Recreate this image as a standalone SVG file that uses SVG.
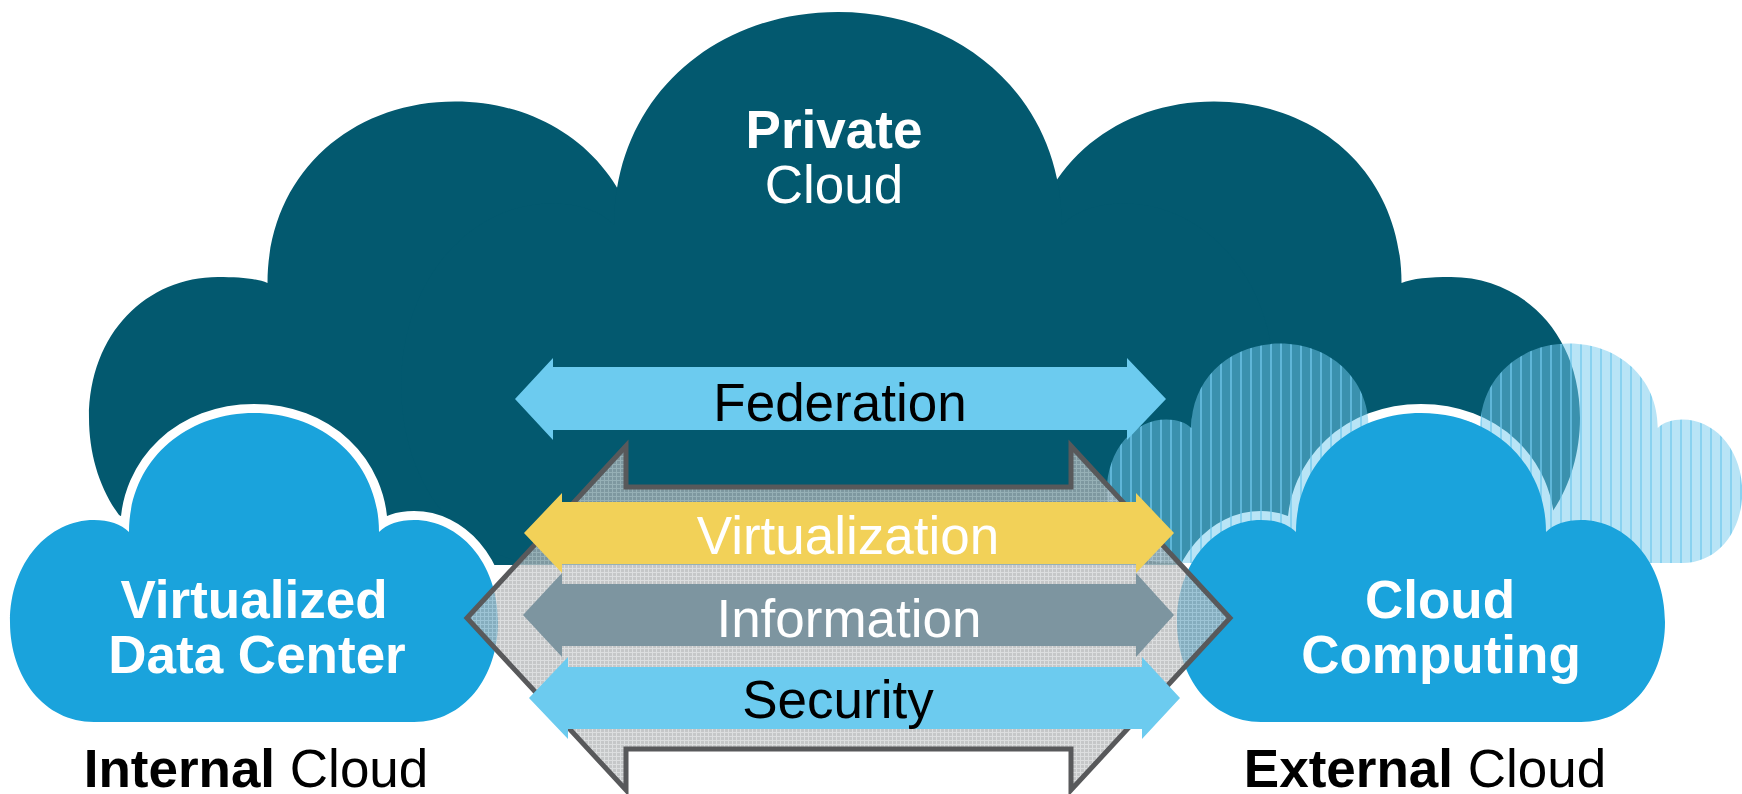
<svg xmlns="http://www.w3.org/2000/svg" xmlns:xlink="http://www.w3.org/1999/xlink" width="1742" height="794" viewBox="0 0 1742 794">
  <style>
    text { font-family: "Liberation Sans", Arial, sans-serif; font-size: 53px; text-anchor: middle; }
    .b { font-weight: bold; }
    .white { fill: #ffffff; }
    .black { fill: #000000; }
    .dark { fill: #03596f; }
    .blue { fill: #1aa3dc; }
    .halo { fill: none; stroke: #ffffff; stroke-width: 18; }
    .skyarrow { fill: #6ccbef; }
    .yellow { fill: #f2d158; }
    .slate { fill: #7d95a0; }
    .frame { fill: url(#grid); fill-opacity: 0.72; stroke: #58595b; stroke-width: 5; stroke-linejoin: miter; }
  </style>
  <defs>
    <!-- Basic cloud outline: origin at the middle of the flat bottom -->
    <path id="cloud" d="M -160 0 C -210 0 -244 -45 -244 -100 C -244 -160 -205 -202 -160 -202 C -145 -202 -133 -198 -125 -190 C -125 -260 -70 -309 0 -309 C 70 -309 125 -260 125 -190 C 133 -198 145 -202 160 -202 C 205 -202 244 -160 244 -100 C 244 -45 210 0 160 0 Z"/>
    <!-- Same outline with slightly lower side lobes, for the large back cloud -->
    <path id="cloud-low" d="M -160 0 C -210 0 -244 -45 -244 -98 C -244 -155 -205 -192 -158 -192 C -144 -192 -132 -191 -125 -188 C -125 -260 -70 -309 0 -309 C 70 -309 125 -260 125 -188 C 132 -191 144 -192 158 -192 C 205 -192 244 -155 244 -98 C 244 -45 210 0 160 0 Z"/>
    <pattern id="stripes" width="10" height="10" patternUnits="userSpaceOnUse">
      <rect x="2" width="8" height="10" fill="#71c9ed" fill-opacity="0.5"/>
      <rect width="2" height="10" fill="#71c9ed" fill-opacity="0.83"/>
    </pattern>
    <pattern id="grid" width="4" height="4" patternUnits="userSpaceOnUse">
      <rect width="4" height="4" fill="#aeb1b3"/>
      <rect width="4" height="1" fill="#cfd1d2"/>
      <rect width="1" height="4" fill="#cfd1d2"/>
    </pattern>
    <clipPath id="external-shape">
      <use xlink:href="#cloud" transform="translate(1280 563) scale(0.71)"/>
      <use xlink:href="#cloud" transform="translate(1569 563) scale(0.71)"/>
    </clipPath>
  </defs>

  <!-- Private cloud: three overlapping cloud outlines -->
  <g id="private-cloud">
    <use xlink:href="#cloud-low" class="dark" transform="translate(455 565) scale(1.5)"/>
    <use xlink:href="#cloud-low" class="dark" transform="translate(1214 565) scale(1.5)"/>
    <use xlink:href="#cloud" class="dark" transform="translate(838 565) scale(1.79)"/>
    <text class="white b" x="834" y="148">Private</text>
    <text class="white" x="834" y="203">Cloud</text>
  </g>

  <!-- White rim of the cloud-computing cloud sits under the striped clouds -->
  <use xlink:href="#cloud" class="halo" transform="translate(1421 722)"/>

  <!-- Striped external clouds behind -->
  <g id="external-clouds">
    <rect x="1090" y="330" width="652" height="240" fill="url(#stripes)" clip-path="url(#external-shape)"/>
  </g>

  <g id="virtualized-data-center">
    <use xlink:href="#cloud" class="blue" transform="translate(254 722)" stroke="#ffffff" stroke-width="18" paint-order="stroke"/>
    <text class="white b" x="254" y="618">Virtualized</text>
    <text class="white b" x="257" y="673">Data Center</text>
  </g>

  <g id="cloud-computing">
    <use xlink:href="#cloud" class="blue" transform="translate(1421 722)"/>
    <text class="white b" x="1440" y="618">Cloud</text>
    <text class="white b" x="1441" y="673">Computing</text>
  </g>

  <!-- Connectors -->
  <g id="connectors">
    <g id="federation">
      <polygon class="skyarrow" points="515,399 553,358 553,367 1127,367 1127,358 1166,399 1127,440 1127,430 553,430 553,440"/>
      <text class="black" x="840" y="421">Federation</text>
    </g>
    <polygon id="frame-arrow" class="frame" points="467,618 626,446 626,487 1071,487 1071,446 1230,618 1071,790 1071,749 626,749 626,790"/>
    <g id="virtualization">
      <polygon class="yellow" points="524,533 562,493 562,502 1136,502 1136,493 1174,533 1136,573 1136,564 562,564 562,573"/>
      <text class="white" x="848" y="554">Virtualization</text>
    </g>
    <g id="information">
      <polygon class="slate" points="523,615 562,573 562,584 1136,584 1136,573 1174,615 1136,657 1136,646 562,646 562,657"/>
      <text class="white" x="849" y="637">Information</text>
    </g>
    <g id="security">
      <polygon class="skyarrow" points="529,698 568,657 568,667 1142,667 1142,657 1180,698 1142,739 1142,729 568,729 568,739"/>
      <text class="black" x="838" y="718">Security</text>
    </g>
  </g>

  <g id="captions">
    <text class="black" x="256" y="787"><tspan class="b">Internal</tspan> Cloud</text>
    <text class="black" x="1425" y="787"><tspan class="b">External</tspan> Cloud</text>
  </g>
</svg>
